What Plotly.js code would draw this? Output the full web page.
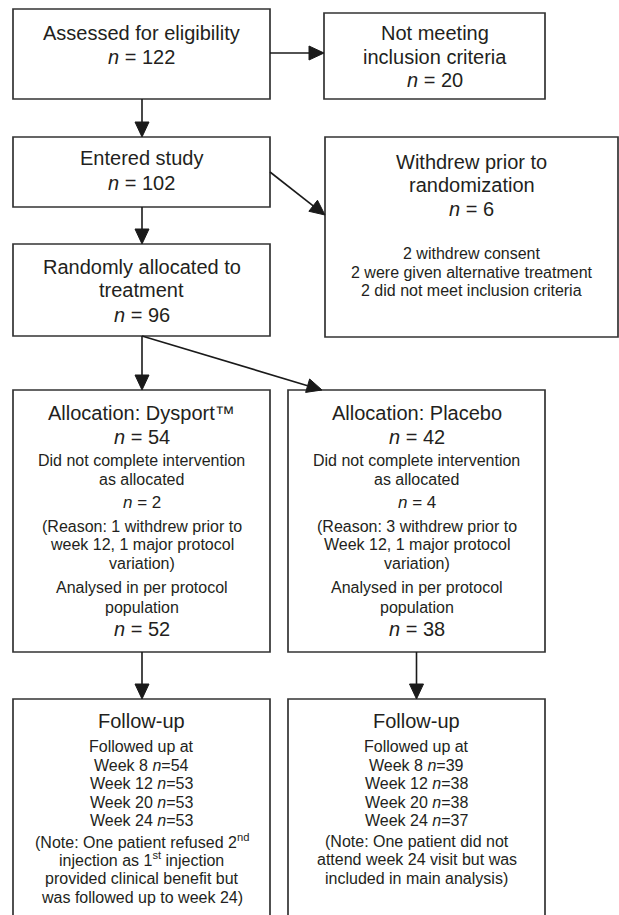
<!DOCTYPE html>
<html><head><meta charset="utf-8">
<script src="https://cdn.plot.ly/plotly-3.0.1.min.js"></script>
<style>html,body{margin:0;padding:0;background:#fff}</style>
</head><body><div id="chart" style="width:619px;height:915px"></div>
<script>
// ---- data ----
const nAssessed = 122;
const nNotMeeting = 20;
const nEntered = 102;
const nWithdrewPrior = 6;
const withdrewReasons = ["2 withdrew consent", "2 were given alternative treatment", "2 did not meet inclusion criteria"];
const nRandomised = 96;
const armNames = ["Dysport™", "Placebo"];
const armN = [54, 42];
const notCompletedN = [2, 4];
const notCompletedReasons = [
  ["(Reason: 1 withdrew prior to", "week 12, 1 major protocol", "variation)"],
  ["(Reason: 3 withdrew prior to", "Week 12, 1 major protocol", "variation)"]
];
const perProtocolN = [52, 38];
const followWeeks = [8, 12, 20, 24];
const followDysport = [54, 53, 53, 53];
const followPlacebo = [39, 38, 38, 37];
const followNotes = [
  ["(Note: One patient refused 2<sup>nd</sup>", "injection as 1<sup>st</sup> injection", "provided clinical benefit but", "was followed up to week 24)"],
  ["(Note: One patient did not", "attend week 24 visit but was", "included in main analysis)"]
];

// ---- layout geometry ----
const FONT = "Liberation Sans, Arial, Helvetica, sans-serif";
const TXT = "#231f20";
const LINE = "#333333";
const BIG = 20, SMALL = 16;
const boxes = {
  assessed: [13, 9, 270, 99],
  notMeet: [324, 13, 545, 99],
  entered: [13, 137, 270, 207],
  withdrew: [325, 137, 618, 337],
  random: [13, 244, 270, 336],
  arm0: [13, 390, 270, 652],
  arm1: [288, 390, 545, 652],
  fu0: [13, 699, 270, 930],
  fu1: [288, 699, 545, 930]
};
const cx = b => (b[0] + b[2]) / 2;

const shapes = Object.values(boxes).map(b => ({
  type: 'rect', xref: 'x', yref: 'y', x0: b[0], y0: b[1], x1: b[2], y1: b[3],
  line: {color: LINE, width: 1.7}, fillcolor: 'rgba(0,0,0,0)'
}));

const annotations = [];
function txt(x, y, text, size) {
  annotations.push({x: x, y: y, xref: 'x', yref: 'y', text: text, showarrow: false,
    xanchor: 'center', yanchor: 'middle', font: {family: FONT, size: size, color: TXT}});
}
// arrow = connector line + filled triangular head (axes are 1 unit per pixel)
const HEAD_L = 15, HEAD_W = 7;
function arrow(x0, y0, x1, y1) {
  const dx = x1 - x0, dy = y1 - y0, len = Math.hypot(dx, dy);
  const ux = dx / len, uy = dy / len, px = -uy, py = ux;
  const bx = x1 - ux * HEAD_L, by = y1 - uy * HEAD_L;
  shapes.push({type: 'line', xref: 'x', yref: 'y', x0: x0, y0: y0, x1: bx, y1: by,
    line: {color: '#1a1a1a', width: 1.6}});
  shapes.push({type: 'path', xref: 'x', yref: 'y',
    path: `M${x1},${y1} L${bx + px * HEAD_W},${by + py * HEAD_W} L${bx - px * HEAD_W},${by - py * HEAD_W} Z`,
    fillcolor: '#1a1a1a', line: {color: '#1a1a1a', width: 1}});
}
const nTxt = v => "<i>n</i> = " + v;

// box 1
txt(cx(boxes.assessed), 33, "Assessed for eligibility", BIG);
txt(cx(boxes.assessed), 57, nTxt(nAssessed), BIG);
// box 2
txt(cx(boxes.notMeet), 33, "Not meeting", BIG);
txt(cx(boxes.notMeet), 57, "inclusion criteria", BIG);
txt(cx(boxes.notMeet), 80, nTxt(nNotMeeting), BIG);
// box 3
txt(cx(boxes.entered), 158, "Entered study", BIG);
txt(cx(boxes.entered), 183, nTxt(nEntered), BIG);
// box 4
txt(cx(boxes.withdrew), 162, "Withdrew prior to", BIG);
txt(cx(boxes.withdrew), 185, "randomization", BIG);
txt(cx(boxes.withdrew), 209, nTxt(nWithdrewPrior), BIG);
const wy = [253, 272, 290];
withdrewReasons.forEach((r, i) => txt(cx(boxes.withdrew), wy[i], r, SMALL));
// box 5
txt(cx(boxes.random), 267, "Randomly allocated to", BIG);
txt(cx(boxes.random), 290, "treatment", BIG);
txt(cx(boxes.random), 315, nTxt(nRandomised), BIG);
// arm boxes
const reasonY = [526, 544, 563];
const weekY = [765, 783, 802, 820];
const noteY = [841, 859, 878, 897];
armNames.forEach((a, i) => {
  const b = boxes['arm' + i], x = cx(b);
  txt(x, 413, "Allocation: " + a, BIG);
  txt(x, 437, nTxt(armN[i]), BIG);
  txt(x, 460, "Did not complete intervention", SMALL);
  txt(x, 479, "as allocated", SMALL);
  txt(x, 502, nTxt(notCompletedN[i]), 17);
  notCompletedReasons[i].forEach((r, j) => txt(x, reasonY[j], r, SMALL));
  txt(x, 587, "Analysed in per protocol", SMALL);
  txt(x, 607, "population", SMALL);
  txt(x, 629, nTxt(perProtocolN[i]), BIG);
  const f = boxes['fu' + i], fx = cx(f);
  const vals = i === 0 ? followDysport : followPlacebo;
  txt(fx, 721, "Follow-up", BIG);
  txt(fx, 746, "Followed up at", SMALL);
  followWeeks.forEach((w, j) => txt(fx, weekY[j], "Week " + w + " <i>n</i>=" + vals[j], SMALL));
  followNotes[i].forEach((r, j) => txt(fx, noteY[j], r, SMALL));
});

// arrows
arrow(boxes.assessed[2], 53, boxes.notMeet[0], 53);
arrow(142, boxes.assessed[3], 142, boxes.entered[1]);
arrow(boxes.entered[2], 172, boxes.withdrew[0], 215);
arrow(142, boxes.entered[3], 142, boxes.random[1]);
arrow(142, boxes.random[3], 142, boxes.arm0[1]);
arrow(142, boxes.random[3], 322, boxes.arm1[1]);
arrow(142, boxes.arm0[3], 142, boxes.fu0[1]);
arrow(cx(boxes.arm1), boxes.arm1[3], cx(boxes.arm1), boxes.fu1[1]);

const layout = {
  width: 619, height: 915,
  margin: {l: 0, r: 0, t: 0, b: 0},
  paper_bgcolor: '#ffffff', plot_bgcolor: '#ffffff',
  showlegend: false,
  xaxis: {range: [0, 619], visible: false, fixedrange: true},
  yaxis: {range: [915, 0], visible: false, fixedrange: true},
  shapes: shapes,
  annotations: annotations
};
Plotly.newPlot('chart', [], layout, {displayModeBar: false, staticPlot: true});
</script></body></html>
